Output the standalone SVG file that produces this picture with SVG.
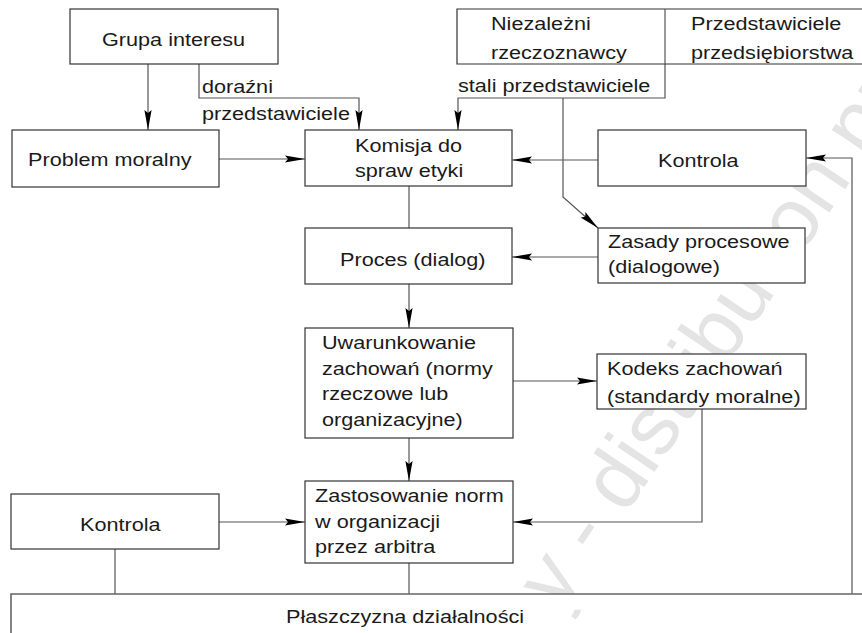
<svg xmlns="http://www.w3.org/2000/svg" width="862" height="633" viewBox="0 0 862 633">
<style>
.box{fill:#fff;stroke:#333;stroke-width:1.2}
.ln{fill:none;stroke:#555;stroke-width:1.2}
.c{fill:none;stroke:#555;stroke-width:1.2}
.a{marker-end:url(#ah)}
text{font-family:"Liberation Sans",Arial,sans-serif;font-size:18.5px;fill:#1a1a1a}
.wm{font-size:84px;fill:#e4e4e4}
</style>
<defs>
<marker id="ah" markerUnits="userSpaceOnUse" markerWidth="20" markerHeight="8" refX="20" refY="4" orient="auto" viewBox="0 0 20 8">
<path d="M0,0.4 L20,4 L0,7.6 L3,4 z" fill="#000"/>
</marker>
</defs>
<rect width="862" height="633" fill="#fff"/>
<text class="wm" transform="translate(560,612) rotate(-56)">y - distribution pro</text>

<g id="connectors">
<path class="c a" d="M148,64 V130"/>
<path class="c a" d="M199,64 V98 H359 V130"/>
<path class="c a" d="M665,64 V98 H458 V130"/>
<path class="c a" d="M563,98 V197 L598,228"/>
<path class="c a" d="M219,159 H305"/>
<path class="c a" d="M598,160 H512"/>
<path class="c" d="M409,186 V228"/>
<path class="c a" d="M598,257 H512"/>
<path class="c a" d="M409,284 V328"/>
<path class="c a" d="M513,381 H597"/>
<path class="c a" d="M409,438 V481"/>
<path class="c a" d="M702,409 V522 H513"/>
<path class="c a" d="M219,522 H305"/>
<path class="c" d="M115,549 V594"/>
<path class="c" d="M409,563 V594"/>
<path class="c a" d="M852,594 V158 H806"/>
</g>

<g id="grupa">
<rect class="box" x="70" y="9" width="208" height="55"/>
<text transform="translate(102,46) scale(1.17,1)">Grupa interesu</text>
</g>
<g id="dorazni-label">
<text transform="translate(202,93) scale(1.17,1)">doraźni</text>
<text transform="translate(202,120) scale(1.17,1)">przedstawiciele</text>
</g>
<g id="niezalezni">
<path class="box" d="M870,9 H457 V64 H870"/>
<path class="ln" d="M665,9 V64"/>
<text transform="translate(491,30) scale(1.17,1)">Niezależni</text>
<text transform="translate(491,59) scale(1.17,1)">rzeczoznawcy</text>
</g>
<g id="przedstawiciele">
<text transform="translate(691,30) scale(1.17,1)">Przedstawiciele</text>
<text transform="translate(691,59) scale(1.17,1)">przedsiębiorstwa</text>
</g>
<g id="stali-label">
<text transform="translate(458,92) scale(1.17,1)">stali przedstawiciele</text>
</g>
<g id="problem">
<rect class="box" x="12" y="130" width="207" height="57"/>
<text transform="translate(28,166) scale(1.17,1)">Problem moralny</text>
</g>
<g id="komisja">
<rect class="box" x="305" y="130" width="207" height="56"/>
<text transform="translate(355,152) scale(1.17,1)">Komisja do</text>
<text transform="translate(355,177) scale(1.17,1)">spraw etyki</text>
</g>
<g id="kontrola-top">
<rect class="box" x="598" y="130" width="208" height="56"/>
<text transform="translate(658,167) scale(1.17,1)">Kontrola</text>
</g>
<g id="proces">
<rect class="box" x="305" y="228" width="207" height="56"/>
<text transform="translate(340,266) scale(1.17,1)">Proces (dialog)</text>
</g>
<g id="zasady">
<rect class="box" x="598" y="228" width="207" height="55"/>
<text transform="translate(608,248) scale(1.17,1)">Zasady procesowe</text>
<text transform="translate(608,273) scale(1.17,1)">(dialogowe)</text>
</g>
<g id="uwarunkowanie">
<rect class="box" x="305" y="328" width="208" height="110"/>
<text transform="translate(322,349) scale(1.17,1)">Uwarunkowanie</text>
<text transform="translate(322,375) scale(1.17,1)">zachowań (normy</text>
<text transform="translate(322,400) scale(1.17,1)">rzeczowe lub</text>
<text transform="translate(322,426) scale(1.17,1)">organizacyjne)</text>
</g>
<g id="kodeks">
<rect class="box" x="597" y="354" width="209" height="55"/>
<text transform="translate(607,375) scale(1.17,1)">Kodeks zachowań</text>
<text transform="translate(607,403) scale(1.17,1)">(standardy moralne)</text>
</g>
<g id="kontrola-bottom">
<rect class="box" x="11" y="494" width="208" height="55"/>
<text transform="translate(80,531) scale(1.17,1)">Kontrola</text>
</g>
<g id="zastosowanie">
<rect class="box" x="305" y="481" width="208" height="82"/>
<text transform="translate(315,502) scale(1.17,1)">Zastosowanie norm</text>
<text transform="translate(315,528) scale(1.17,1)">w organizacji</text>
<text transform="translate(315,553) scale(1.17,1)">przez arbitra</text>
</g>
<g id="plaszczyzna">
<path d="M11,640 V594 H870" fill="#fff" stroke="#666" stroke-width="1.6"/>
<text transform="translate(286,623) scale(1.17,1)">Płaszczyzna działalności</text>
</g>
</svg>
